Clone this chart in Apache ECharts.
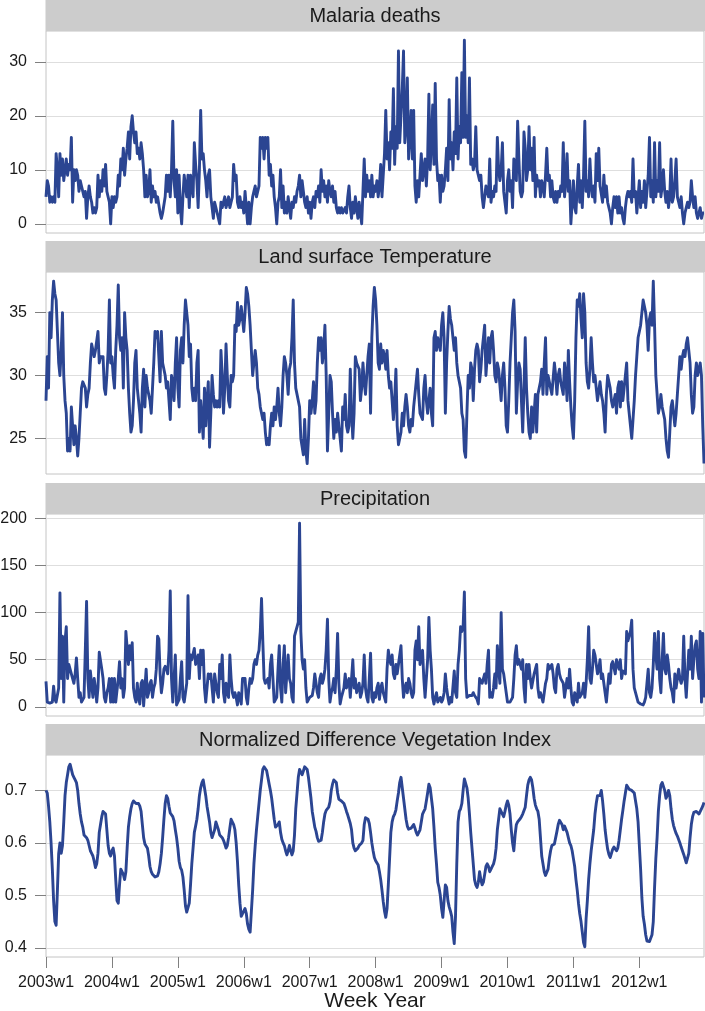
<!DOCTYPE html>
<html>
<head>
<meta charset="utf-8">
<script src="https://cdn.jsdelivr.net/npm/echarts@6/dist/echarts.min.js"></script>
<style>
html,body{margin:0;padding:0;background:#fff;}
#chart{width:705px;height:1011px;}
</style>
</head>
<body>
<div id="chart"></div>
<script>
// ---------- data ----------
const years = [2003,2004,2005,2006,2007,2008,2009,2010,2011,2012];
const weeksPerYear = 52;

const malaria = [
5,8,7,4,5,4,5,4,13,10, 5,13,9,12,8,10,12,9,11,10, 16,4,10,8,10,9,6,8,7,6, 5,6,1,5,7,5,4,2,3,2,
3,9,5,8,6,10,7,11,6,5, 4,0,5,3,5,4,5,9,7,12, 10,14,9,12,14,17,12,18,20,17, 15,17,13,14,12,15,13,10,5,9,
5,6,10,4,7,5,6,4,5,5, 2,1,2,2,5,9,6,9,5,10, 19,8,5,10,2,9,3,0,5,9, 9,5,9,3,9,7,5,15,11,8,
3,10,21,12,13,10,8,5,9,10, 5,3,1,4,3,2,1,0,4,3, 4,5,3,4,5,3,4,5,11,8, 9,4,3,5,3,4,2,6,3,0,
4,0,3,5,6,7,5,6,7,16, 14,16,12,16,14,16,9,11,7,9, 5,3,0,4,5,10,3,7,2,4, 2,5,3,1,4,3,5,4,6,7,
9,5,8,6,4,3,5,2,4,1, 4,5,3,6,5,7,4,10,6,8, 5,7,4,8,6,5,7,4,6,3, 2,3,2,3,2,2,3,2,5,7,
3,1,4,2,5,3,1,4,2,0, 6,12,5,9,6,8,5,9,5,7, 6,8,5,7,11,5,9,13,21,12, 15,10,17,14,25,11,18,14,32,15,
20,25,32,15,18,27,12,16,21,12, 21,7,4,8,5,9,13,8,10,12, 7,12,24,10,15,22,11,26,12,8, 9,4,9,6,7,10,14,8,23,12,
15,10,17,13,27,12,18,15,28,16, 34,16,20,15,27,11,12,10,11,18, 10,10,8,9,5,3,5,7,6,5, 12,4,6,5,7,6,16,10,8,10,
15,6,4,2,8,10,6,8,3,12, 12,8,19,12,6,5,6,17,14,8, 10,18,10,14,8,16,5,9,7,8, 5,8,7,5,9,14,8,9,5,8,
5,4,6,4,6,5,7,6,15,5, 8,13,6,8,0,4,8,3,2,7, 11,4,8,3,9,19,6,8,5,12, 7,5,7,4,13,8,14,7,7,4,
9,5,7,4,3,2,0,3,5,3, 5,2,5,2,3,1,0,3,5,6, 5,6,4,12,5,6,2,5,8,3, 6,4,8,3,6,9,16,5,8,4,
15,5,8,6,15,5,7,10,6,4, 6,3,5,12,4,5,8,12,5,4, 3,5,2,0,2,3,4,3,4,8, 5,3,5,2,1,2,3,1,2,2
];

const temperature = [
28,31.5,29,35,33,36,37.5,36.5,36,33.5, 31,30,32,35,30,28,27,24,25,24, 27.5,26,24.5,26,25,23.6,25,27,29,29.5, 29.5,29,27.5,28.5,29,31,32.5,32,31.5,32,
32,33.5,31,31.5,31.5,31.5,29,28.5,30,32, 36,31,31.5,30,29,32,34,37.2,33,32, 33,29,35,33,32,29,27,25.5,26,28, 31,32,29,28,27,25.5,29,30.5,27.5,30,
29,28.5,28,27,29,31,33.5,33,33.5,31.5, 29.5,33.5,31,30.5,30,29,29.5,28,26.5,30, 29.5,28,31,33,29,27.5,32,33,31,34, 36,35,34,31.5,32.5,29,28,29,28,31,
32,25.5,28,26.5,25,29,26,28,29.5,24.3, 27,30,28.5,27.5,28,27.5,28,27.5,32,30, 27,29,32.5,30,28,27.5,30,29.5,30,34, 33.5,35.8,34,34.5,35.5,34.5,33.5,35,37,36.5,
35.5,34,32,30,31,32,31,29,28.5,27.5, 27,26.5,27,25.5,24.5,25,24.5,26,27,26, 27.5,26.5,27.5,29,27,26,27.5,30,31.5,31, 30,28.5,30.5,31,33,36,31,29,28.5,28.5,
27.5,25,25,23.7,26.5,24,23,25,28,27, 28,29.5,27,28,31,33,32,33,31,32, 34,30,24,27,30,29.5,27,25,26.5,25.5, 27,26,25,24,27.5,26.5,28.5,26,25.5,26,
30.5,27,25,27,31.5,31,31,30.5,28,29, 31,29.5,28.5,30,31.5,32.5,27,33,35.5,37, 36,34,31,30.5,32.5,31,32,31.5,30.5,32, 30,29,29.5,28,26.5,28,30.5,26,24.5,25,
25.5,27,26,27.5,28.5,27.5,26,25.5,26.5,26, 27.5,28.5,29.5,30.5,28.5,27,27,26.5,29,30, 28,27,28,29,27,26,33,33.5,32,33, 32.5,32,34,35,33,27,31,33.5,35.5,34.5,
34,33,32,33,31,30,29.5,29,27,26.5, 24,23.5,27,30,29,31,30.5,28,30.5,32, 32.5,32,29.5,30.5,32,33,34,30,31.5,33, 31,33,33.5,32,30,29.5,31,30.5,30.5,28,
30,31,29,26,25.5,28,31,33,35,36, 33.5,27,29.5,31,30.5,28,25.5,29,33,29, 27,25.5,25,27.5,25.5,27,28.5,25.5,28.5,29, 29.5,30.5,28.5,31,33,28.5,30,29.5,29,28.5,
28.5,31,30,28.5,30,30.5,29.5,29,28.5,31, 30,28,32,29.5,27.5,26,25,28,33,36, 35.5,36.5,34.5,33,36.5,35,31,29.5,29,30.5, 33,31,29.5,30,29,28,28,29.5,28.5,28,
27,25.5,28.5,30,29.5,29,28,27.5,28,28.5, 27,29,29.5,27.5,29.5,28,29,30,31,28, 27,26,25,26.5,28,30,31.5,33,33.5,34, 35,36,35.5,35,34,32,34.5,35,34,37.5,
34,30,28.5,27,27.5,28.5,27.5,27,26.5,25, 24,23.5,25.5,27.5,28,27,26,27,28.5,30, 31.5,30.5,31.5,32,31.5,32.5,33,32,31,28.5, 27,27.5,30,31,30,30.5,31,30,26,23
];

const precipitation = [
27,5,3,4,6,5,22,8,5,5, 20,121,30,75,5,70,85,30,45,40, 35,30,25,35,52,30,10,15,5,5, 10,60,112,30,10,38,38,10,30,20,
5,20,58,58,40,30,10,5,15,20, 30,5,30,5,30,5,3,30,48,20, 30,10,20,80,80,45,65,50,68,20, 10,5,25,10,3,25,28,1,20,40,
10,15,25,28,10,20,25,40,75,72, 35,15,25,40,43,40,35,60,123,30, 5,30,55,2,3,8,30,48,10,5, 15,25,118,30,55,50,52,62,45,50,
55,30,60,45,60,20,5,20,35,30, 35,20,5,35,25,15,10,45,30,55, 15,5,25,15,10,55,30,15,10,15, 10,2,15,10,3,30,30,30,10,3,
20,30,25,30,45,50,45,55,60,80, 115,70,30,25,25,30,20,45,55,30, 5,3,10,40,65,20,5,45,65,15, 35,55,30,25,10,5,75,80,85,90,
195,80,50,40,50,20,5,3,10,10, 12,20,35,25,15,10,30,35,25,30, 40,60,93,30,5,15,20,30,15,40, 78,25,3,10,15,20,35,20,25,30,
10,30,50,20,30,15,20,25,10,15, 25,55,20,10,5,30,57,10,5,15, 10,20,25,8,20,25,15,10,5,40, 60,50,45,55,35,30,45,35,45,55,
65,30,10,20,25,15,30,25,15,10, 15,60,70,50,85,45,55,60,30,10, 30,50,95,60,40,10,3,10,15,5, 3,10,5,8,15,35,20,10,3,10,
5,3,38,15,10,45,60,85,80,85, 122,30,10,8,12,10,12,15,12,10, 8,3,30,30,25,25,35,25,45,60, 10,15,10,20,35,20,65,40,25,100,
40,35,35,15,5,5,5,5,10,30, 55,65,45,50,50,40,50,20,5,45, 30,45,30,20,20,35,40,45,20,10, 15,10,5,15,25,30,45,40,40,45,
35,20,15,40,45,35,30,30,25,10, 20,30,20,40,20,5,2,15,10,5, 25,10,12,15,25,10,25,50,85,30, 25,40,60,55,45,35,40,50,30,35,
25,15,5,20,35,25,45,48,50,35, 50,45,40,50,30,38,40,35,80,70, 72,80,92,40,20,15,10,5,5,3, 3,2,5,10,25,40,15,10,20,45,
78,55,40,80,30,15,50,78,40,35, 55,45,30,20,15,5,35,20,30,40, 30,25,30,75,30,10,35,60,40,75, 30,50,65,70,40,30,80,5,78,10
];

const ndvi = [
0.70,0.695,0.67,0.64,0.60,0.55,0.49,0.45,0.443,0.51, 0.58,0.60,0.58,0.595,0.64,0.69,0.715,0.73,0.745,0.75,
0.74,0.73,0.725,0.72,0.715,0.70,0.675,0.655,0.64,0.63, 0.615,0.612,0.61,0.605,0.595,0.585,0.58,0.575,0.565,0.553,
0.56,0.58,0.62,0.635,0.65,0.66,0.66,0.655,0.625,0.595, 0.58,0.575,0.585,0.59,0.575,0.53,0.49,0.485,0.52,0.55,
0.55,0.54,0.53,0.545,0.59,0.63,0.65,0.665,0.675,0.68, 0.678,0.675,0.675,0.675,0.67,0.66,0.635,0.61,0.598,0.595,
0.59,0.575,0.555,0.545,0.54,0.537,0.535,0.535,0.537,0.545, 0.56,0.58,0.61,0.645,0.675,0.69,0.685,0.67,0.657,0.655,
0.65,0.642,0.625,0.61,0.59,0.565,0.553,0.548,0.535,0.51, 0.48,0.468,0.47,0.485,0.52,0.56,0.59,0.62,0.632,0.645,
0.665,0.69,0.705,0.715,0.72,0.705,0.69,0.67,0.655,0.64, 0.62,0.61,0.612,0.625,0.64,0.638,0.625,0.615,0.612,0.61,
0.605,0.598,0.59,0.595,0.61,0.628,0.645,0.643,0.635,0.625, 0.60,0.565,0.52,0.485,0.46,0.46,0.47,0.475,0.465,0.445,
0.435,0.43,0.47,0.51,0.56,0.595,0.625,0.65,0.675,0.70, 0.72,0.74,0.745,0.745,0.738,0.725,0.712,0.70,0.685,0.665,
0.645,0.63,0.63,0.635,0.64,0.62,0.607,0.60,0.595,0.585, 0.577,0.585,0.595,0.585,0.577,0.585,0.615,0.665,0.695,0.725,
0.74,0.735,0.73,0.737,0.745,0.745,0.74,0.725,0.705,0.685, 0.66,0.645,0.63,0.622,0.61,0.603,0.60,0.605,0.62,0.64,
0.655,0.662,0.665,0.668,0.678,0.70,0.712,0.72,0.72,0.715, 0.695,0.683,0.68,0.68,0.682,0.675,0.668,0.66,0.653,0.645,
0.637,0.625,0.60,0.59,0.585,0.585,0.59,0.595,0.598,0.60, 0.605,0.635,0.648,0.65,0.645,0.637,0.62,0.60,0.585,0.572,
0.566,0.563,0.558,0.545,0.53,0.51,0.488,0.47,0.458,0.475, 0.52,0.57,0.62,0.64,0.65,0.655,0.663,0.68,0.695,0.715,
0.725,0.705,0.685,0.665,0.645,0.632,0.626,0.625,0.628,0.63, 0.635,0.628,0.62,0.615,0.615,0.625,0.64,0.655,0.66,0.665,
0.68,0.695,0.712,0.705,0.685,0.665,0.63,0.59,0.56,0.525, 0.515,0.50,0.475,0.458,0.49,0.52,0.515,0.49,0.478,0.47,
0.46,0.43,0.408,0.46,0.56,0.64,0.66,0.665,0.675,0.70, 0.722,0.72,0.705,0.685,0.655,0.62,0.59,0.56,0.53,0.52,
0.515,0.525,0.545,0.53,0.52,0.525,0.54,0.555,0.56,0.555, 0.545,0.55,0.555,0.56,0.57,0.59,0.625,0.645,0.665,0.665,
0.655,0.65,0.66,0.672,0.68,0.672,0.655,0.625,0.60,0.585, 0.615,0.635,0.64,0.642,0.646,0.65,0.655,0.658,0.668,0.69,
0.71,0.72,0.725,0.72,0.705,0.685,0.672,0.665,0.66,0.645, 0.61,0.575,0.56,0.545,0.538,0.535,0.55,0.57,0.585,0.595,
0.595,0.598,0.61,0.622,0.635,0.643,0.642,0.635,0.625,0.632, 0.63,0.62,0.61,0.60,0.595,0.585,0.57,0.555,0.53,0.51,
0.485,0.465,0.45,0.43,0.41,0.402,0.455,0.49,0.53,0.56, 0.585,0.605,0.625,0.655,0.675,0.69,0.69,0.69,0.70,0.68,
0.655,0.625,0.605,0.588,0.578,0.572,0.58,0.588,0.592,0.595, 0.585,0.59,0.605,0.625,0.645,0.662,0.68,0.695,0.71,0.706,
0.702,0.70,0.70,0.70,0.695,0.68,0.665,0.64,0.595,0.55, 0.495,0.46,0.445,0.425,0.413,0.412,0.412,0.415,0.425,0.45,
0.515,0.57,0.61,0.66,0.69,0.71,0.715,0.715,0.70,0.685, 0.69,0.70,0.69,0.665,0.645,0.633,0.625,0.618,0.613,0.61,
0.60,0.592,0.585,0.578,0.57,0.562,0.565,0.58,0.61,0.635, 0.65,0.658,0.66,0.66,0.657,0.655,0.657,0.665,0.67,0.677
];

const panelTitles = ['Malaria deaths', 'Land surface Temperature', 'Precipitation', 'Normalized Difference Vegetation Index'];
const yTickValues = [[0, 10, 20, 30], [25, 30, 35], [0, 50, 100, 150, 200], [0.4, 0.5, 0.6, 0.7]];
const yLimits = [[-1.7, 35.7], [22.17, 38.23], [-9.75, 204.75], [0.3825, 0.7675]];
const xAxisTitle = 'Week Year';

// ---------- build ----------
const weekLabels = [];
years.forEach(y => { for (let w = 1; w <= weeksPerYear; w++) weekLabels.push(y + 'w' + w); });
const seriesData = [malaria, temperature, precipitation, ndvi];

const FONT = '"Liberation Sans", Arial, Helvetica, sans-serif';
const LINE = '#2b4592';
const plotLeft = 46, plotRight = 1;
const plotTops = [31, 272, 514, 755];
const plotH = 202;
const stripH = 31;

const grids = [], xAxes = [], yAxes = [], series = [], graphics = [];
for (let p = 0; p < 4; p++) {
  grids.push({
    left: plotLeft, right: plotRight, top: plotTops[p], height: plotH,
    show: true, borderColor: '#c4c4c4', borderWidth: 1, backgroundColor: '#fff',
    containLabel: false, outerBoundsMode: 'none'
  });
  const isBottom = p === 3;
  xAxes.push({
    type: 'category', gridIndex: p, data: weekLabels, boundaryGap: false,
    axisLine: { show: false },
    axisTick: { show: isBottom, interval: (i) => i % weeksPerYear === 0, length: 11, lineStyle: { color: '#808080', width: 1 } },
    axisLabel: { show: isBottom, interval: (i) => i % weeksPerYear === 0, fontSize: 16, fontFamily: FONT, color: '#1a1a1a', margin: 18 },
    splitLine: { show: false }
  });
  yAxes.push({
    type: 'value', gridIndex: p, min: yLimits[p][0], max: yLimits[p][1],
    axisLine: { show: false },
    axisTick: { show: true, length: 11, customValues: yTickValues[p], lineStyle: { color: '#808080', width: 1 } },
    axisLabel: { customValues: yTickValues[p], fontSize: 16, fontFamily: FONT, color: '#1a1a1a', margin: 19 },
    splitLine: { show: true, lineStyle: { color: '#dedede', width: 1 } }
  });
  series.push({
    type: 'line', xAxisIndex: p, yAxisIndex: p, data: seriesData[p],
    showSymbol: false, symbol: 'none', animation: false, clip: true,
    lineStyle: { color: LINE, width: 2.9, join: 'round' }
  });
  const stripTop = plotTops[p] - stripH;
  graphics.push({
    type: 'rect', shape: { x: 45.5, y: stripTop, width: 660, height: stripH },
    style: { fill: '#cccccc' }, silent: true
  });
  graphics.push({
    type: 'text', x: 375, y: stripTop + stripH / 2 + 1,
    style: { text: panelTitles[p], fontSize: 20, fontFamily: FONT, fill: '#1a1a1a',
             align: 'center', verticalAlign: 'middle', textAlign: 'center', textVerticalAlign: 'middle' },
    silent: true
  });
}
graphics.push({
  type: 'text', x: 375, y: 1001,
  style: { text: xAxisTitle, fontSize: 21, fontFamily: FONT, fill: '#1a1a1a',
           align: 'center', verticalAlign: 'middle', textAlign: 'center', textVerticalAlign: 'middle' },
  silent: true
});

const chart = echarts.init(document.getElementById('chart'), null, { renderer: 'canvas' });
chart.setOption({
  animation: false,
  backgroundColor: '#ffffff',
  grid: grids, xAxis: xAxes, yAxis: yAxes, series: series,
  graphic: { elements: graphics }
});
</script>
</body>
</html>
